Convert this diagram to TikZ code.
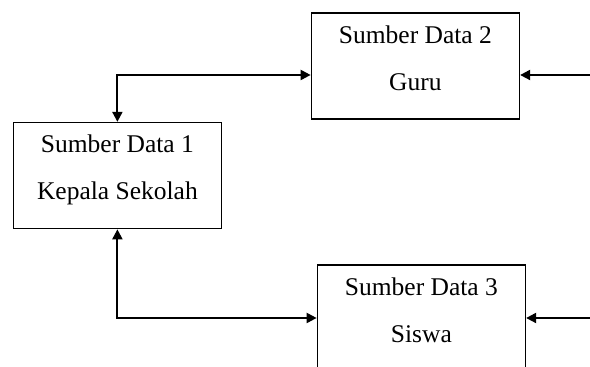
\documentclass[tikz,border=0pt]{standalone}
\usepackage{fontspec}
\setmainfont{Liberation Serif}
\usetikzlibrary{arrows.meta}
\newcommand{\widthsource}{104pt}
\newcommand{\heightsource}{53pt}
\tikzset{
    source/.style={draw, rectangle, line width=0.75pt, minimum width=\widthsource, minimum height=\heightsource,
        align=center, text height=32.5pt, text depth=8.2pt, font=\fontsize{12.75}{23.5}\selectfont},
    flow/.style={line width=1pt, -{Triangle[length=5pt, width=5pt]}},
    link/.style={line width=1pt, {Triangle[length=5pt, width=5pt]}-{Triangle[length=5pt, width=5pt]}},
}
\begin{document}
\begin{tikzpicture}[x=1pt, y=1pt]
    \useasboundingbox (0,0) rectangle (295,183.5);
    \node[source] (guru) at (207.7,150.5) {Sumber Data 2\\Guru};
    \node[source] (kepsek) at (58.7,95.7) {Sumber Data 1\\Kepala Sekolah};
    \node[source] (siswa) at (210.7,24.5) {Sumber Data 3\\Siswa};
    % from the right edge
    \coordinate (ingoru) at (295,146);
    \coordinate (insiswa) at (295,24.5);
    \draw[flow] (ingoru) -- (ingoru -| guru.east);
    \draw[flow] (insiswa) -- (siswa.east);
    % links of source 1
    \coordinate (bend) at (58.7,146);
    \draw[link] (kepsek.north) |- (bend -| guru.west);
    \draw[link] (kepsek.south) |- (siswa.west);
\end{tikzpicture}
\end{document}
